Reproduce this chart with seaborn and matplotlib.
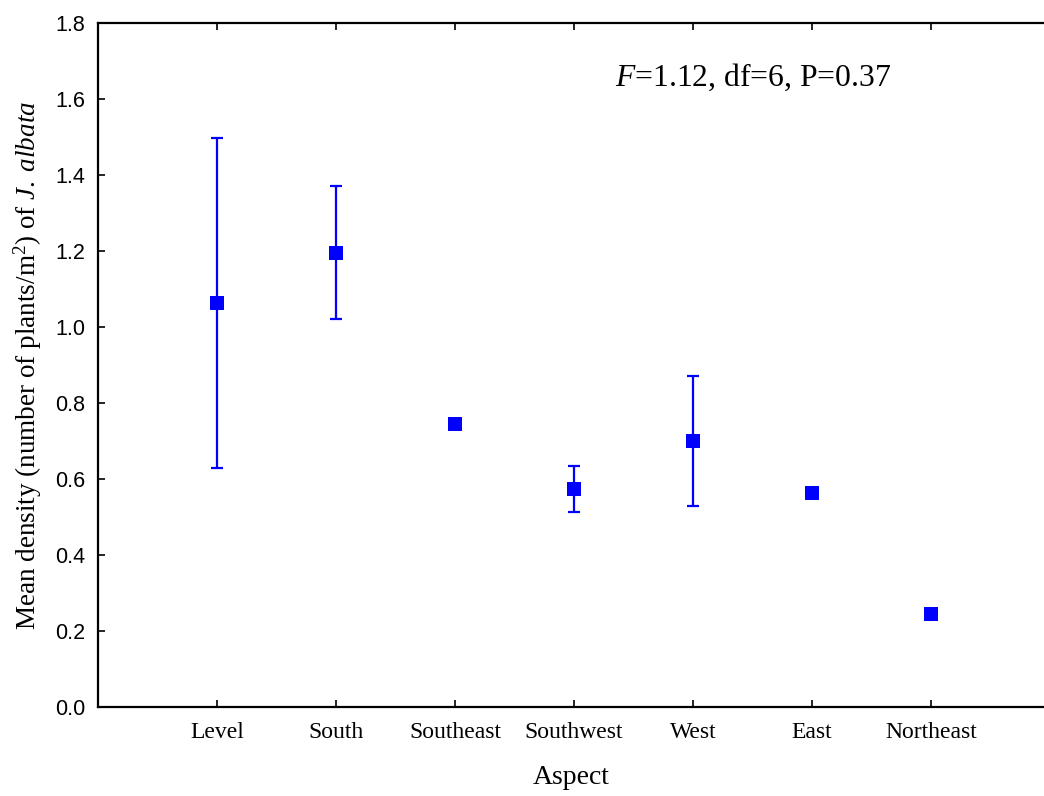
import matplotlib
matplotlib.use("Agg")
import matplotlib.pyplot as plt
from matplotlib.ticker import FormatStrFormatter
import seaborn as sns
import pandas as pd

aspects = ['Level', 'South', 'Southeast', 'Southwest', 'West', 'East', 'Northeast']
mean_density = [1.063, 1.195, 0.745, 0.574, 0.700, 0.563, 0.245]
std_err = [0.435, 0.175, 0.0, 0.060, 0.171, 0.0, 0.0]
y_ticks = [0.0, 0.2, 0.4, 0.6, 0.8, 1.0, 1.2, 1.4, 1.6, 1.8]

df = pd.DataFrame({'Aspect': aspects, 'Mean': mean_density, 'SE': std_err})

sns.set_style('ticks')
plt.rcParams['text.color'] = 'black'
plt.rcParams['axes.labelcolor'] = 'black'
plt.rcParams['mathtext.fontset'] = 'custom'
plt.rcParams['mathtext.rm'] = 'Liberation Serif'
plt.rcParams['mathtext.it'] = 'Liberation Serif:italic'

fig = plt.figure(figsize=(10.44, 7.96), dpi=100)
ax = fig.add_axes([98 / 1044, 89 / 796, 1 - 98 / 1044, 684 / 796])

# squares first so the category order follows the list
sns.scatterplot(data=df, x='Aspect', y='Mean', marker='s', s=100, color='#0000ff',
                edgecolor='#0000ff', linewidth=0, ax=ax, zorder=3)
# error bars only where there is a spread
has_err = df[df['SE'] > 0]
ax.errorbar(has_err['Aspect'], has_err['Mean'], yerr=has_err['SE'], fmt='none',
            ecolor='#0000ff', elinewidth=1.6, capsize=4.5, capthick=1.6, zorder=2)

ax.set_xlim(-1, 6.95)
ax.set_ylim(0, 1.8)
ax.set_yticks(y_ticks)
ax.yaxis.set_major_formatter(FormatStrFormatter('%.1f'))

for s in ['left', 'bottom', 'top']:
    ax.spines[s].set_linewidth(1.6)
    ax.spines[s].set_color('black')
ax.spines['right'].set_visible(False)

ax.tick_params(axis='both', direction='in', length=5, width=1.2, colors='black')
ax.tick_params(axis='x', top=True, pad=11)
ax.tick_params(axis='y', pad=9)
for lab in ax.get_yticklabels():
    lab.set_family('Liberation Sans')
    lab.set_fontsize(15.5)
for lab in ax.get_xticklabels():
    lab.set_family('Liberation Serif')
    lab.set_fontsize(17)

ax.set_xlabel('Aspect', family='Liberation Serif', fontsize=20, labelpad=16)
ax.set_ylabel(r'Mean density (number of plants/m$^{2}$) of $\it{J.\;albata}$',
              family='Liberation Serif', fontsize=19.5, labelpad=8)

ax.text(0.5465, 0.92, r'$\it{F}$=1.12, df=6, P=0.37', transform=ax.transAxes,
        family='Liberation Serif', fontsize=22.8, ha='left', va='center')

fig.savefig('out.png', dpi=100)
